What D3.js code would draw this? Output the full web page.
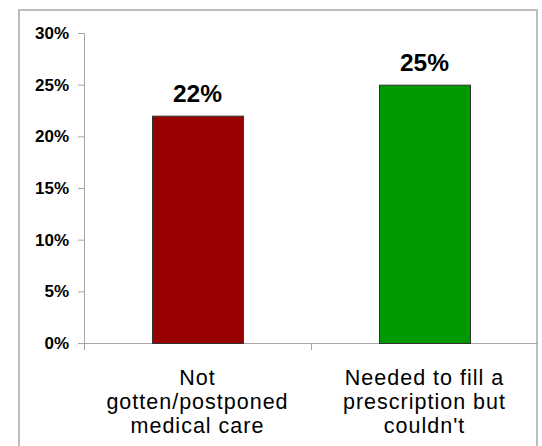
<!DOCTYPE html>
<html>
<head>
<meta charset="utf-8">
<script src="https://cdn.jsdelivr.net/npm/d3@7"></script>
<style>
  html, body { margin: 0; padding: 0; background: #fff; }
  svg { display: block; }
</style>
</head>
<body>
<svg id="chart" width="542" height="446"></svg>
<script>
// Share of respondents who delayed care or skipped prescriptions
const categories = [
  ["Not", "gotten/postponed", "medical care"],
  ["Needed to fill a", "prescription but", "couldn't"]
];
const values = [0.22, 0.25];
const barColors = ["#990000", "#009900"];
const yTicks = [0, 0.05, 0.10, 0.15, 0.20, 0.25, 0.30];

const svg = d3.select("#chart");
const font = "'Liberation Sans', Arial, sans-serif";

// outer frame
svg.append("rect")
  .attr("x", 19).attr("y", 10)
  .attr("width", 518).attr("height", 460)
  .attr("fill", "#fff")
  .attr("stroke", "#bdbdbd")
  .attr("stroke-width", 2);

const x0 = 84, x1 = 538;
const y = d3.scaleLinear().domain([0, 0.30]).range([343, 33]);
const x = d3.scaleBand()
  .domain(d3.range(values.length))
  .range([x0, x1])
  .paddingInner(0)
  .paddingOuter(0);
const barW = 91;

// y axis
const yAxis = d3.axisLeft(y)
  .tickValues(yTicks)
  .tickSize(6)
  .tickPadding(9)
  .tickFormat(d3.format(".0%"));
const gy = svg.append("g").attr("transform", `translate(${x0},0)`).call(yAxis);
gy.select(".domain").attr("stroke", "#a6a6a6").attr("d", `M-6,33.5H0.5V350`);
gy.selectAll(".tick line").attr("stroke", "#a6a6a6");
gy.selectAll(".tick text")
  .attr("font-family", font)
  .attr("font-size", 17)
  .attr("font-weight", "bold")
  .attr("fill", "#000");

// x axis baseline with category separators
const gx = svg.append("g").attr("transform", `translate(0,${y(0)})`);
gx.append("line")
  .attr("x1", x0).attr("x2", x1)
  .attr("y1", 0.5).attr("y2", 0.5)
  .attr("stroke", "#a6a6a6");
gx.selectAll("line.sep")
  .data(d3.range(1, values.length))
  .join("line")
  .attr("class", "sep")
  .attr("x1", d => x(d) + 0.5).attr("x2", d => x(d) + 0.5)
  .attr("y1", 0).attr("y2", 7)
  .attr("stroke", "#a6a6a6");

// bars
svg.selectAll("rect.bar")
  .data(values)
  .join("rect")
  .attr("class", "bar")
  .attr("x", (d, i) => x(i) + x.bandwidth() / 2 - barW / 2 + 0.5)
  .attr("y", d => y(d) + 0.5)
  .attr("width", barW)
  .attr("height", d => y(0) - y(d))
  .attr("fill", (d, i) => barColors[i])
  .attr("stroke", "#333")
  .attr("stroke-width", 1);

// value labels
svg.selectAll("text.val")
  .data(values)
  .join("text")
  .attr("class", "val")
  .attr("x", (d, i) => x(i) + x.bandwidth() / 2)
  .attr("y", d => y(d) - 14)
  .attr("text-anchor", "middle")
  .attr("font-family", font)
  .attr("font-size", 24.5)
  .attr("font-weight", "bold")
  .attr("fill", "#000")
  .text(d => d3.format(".0%")(d));

// category labels
const cat = svg.selectAll("text.cat")
  .data(categories)
  .join("text")
  .attr("class", "cat")
  .attr("x", (d, i) => x(i) + x.bandwidth() / 2)
  .attr("y", 385)
  .attr("text-anchor", "middle")
  .attr("font-family", font)
  .attr("font-size", 21.5)
  .attr("letter-spacing", 1)
  .attr("fill", "#000");
cat.each(function(lines, i) {
  d3.select(this).selectAll("tspan")
    .data(lines)
    .join("tspan")
    .attr("x", x(i) + x.bandwidth() / 2)
    .attr("dy", (d, k) => k === 0 ? 0 : 24)
    .text(d => d);
});
</script>
</body>
</html>
